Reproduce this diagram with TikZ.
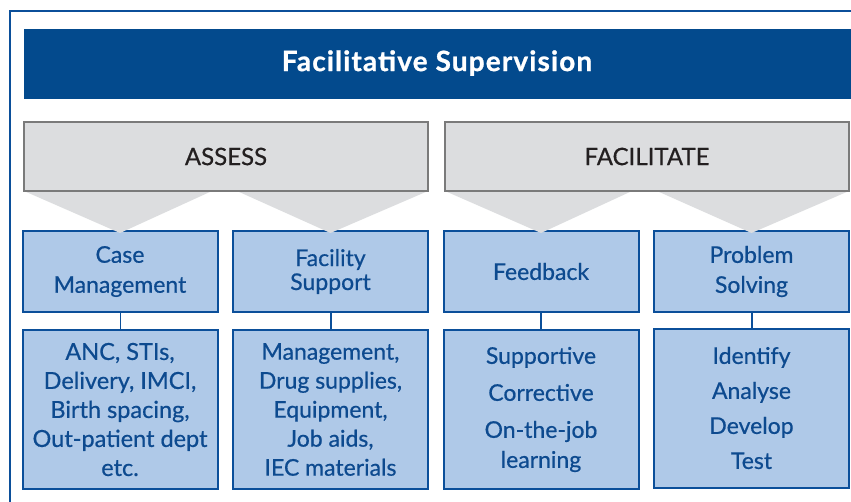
\documentclass[tikz,border=0pt]{standalone}
\usepackage{fontspec}
\setmainfont{Lato}
\newfontfamily\bodyfont{Lato}[FakeBold=0.6]
\newfontfamily\titlefont{Lato Bold}[FakeBold=0.8, LetterSpace=4]
\definecolor{titleblue}{HTML}{034A8D}
\definecolor{frameblue}{HTML}{0B4F9A}
\definecolor{boxblue}{HTML}{AFC9E8}
\definecolor{textblue}{HTML}{0D4A8F}
\definecolor{greyfill}{HTML}{DCDDDF}
\definecolor{greyline}{HTML}{7A7A7A}
\definecolor{darktext}{HTML}{231F20}
\tikzset{
  headbox/.style={draw=greyline, line width=2pt, fill=greyfill, minimum width=404pt, minimum height=69pt, inner sep=0pt,
    text=darktext, font=\bodyfont\fontsize{24}{28}\selectfont},
  bluebox/.style={draw=frameblue, line width=2pt, fill=boxblue, inner sep=0pt, align=center,
    text=textblue, font=\bodyfont\fontsize{23}{30}\selectfont},
  topbox/.style={bluebox, minimum width=195pt, minimum height=81pt},
  lowbox/.style={bluebox, minimum width=195pt, minimum height=159pt},
  chevron/.style={fill=greyfill},
  link/.style={draw=frameblue, line width=2pt},
}
\begin{document}
\begin{tikzpicture}[x=1pt,y=-1pt]
\useasboundingbox (0,0) rectangle (851,501);
\fill[white] (0,0) rectangle (851,501);
% outer frame
\draw[frameblue, line width=1.6pt] (10,520) -- (10,11) -- (870,11);
% title
\node[fill=titleblue, minimum width=828pt, minimum height=70pt, inner sep=0pt, anchor=north west] (title) at (24,29) {};
\node[text=white, font=\titlefont\fontsize{28}{32}\selectfont, inner sep=0pt] (titletext) at (437,63) {Facilitative Supervision};
% row-1 and row-2 boxes
\node[topbox] (cm) at (120,271.5) {Case\\Management};
\node[topbox] (fs) at (330.5,271.5) {Facility\\[-6pt]Support};
\node[topbox] (fb) at (541,271.5) {Feedback};
\node[topbox] (ps) at (751.5,271.5) {Problem\\Solving};
\node[lowbox, font=\bodyfont\fontsize{23.5}{29}\selectfont] (cml) at (120,409.5) {ANC, STIs,\\Delivery, IMCI,\\Birth spacing,\\Out-patient dept\\etc.};
\node[lowbox, font=\bodyfont\fontsize{23}{29}\selectfont] (fsl) at (330.5,409.5) {Management,\\Drug supplies,\\Equipment,\\Job aids,\\IEC materials};
\node[lowbox] (fbl) at (541,409.5) {Supportive\\[7pt]Corrective\\[7pt]On-the-job\\learning};
\node[lowbox] (psl) at (751.5,408) {Identify\\[5pt]Analyse\\[5pt]Develop\\[5pt]Test};
% chevrons
\coordinate (a1) at (212,191); \coordinate (a2) at (237,191);
\coordinate (f1) at (632,191); \coordinate (f2) at (657,191);
\fill[chevron] (24,191) -- ([yshift=-3pt]cm.north) -- (a1) -- cycle;
\fill[chevron] (a2) -- ([yshift=-3pt]fs.north) -- (428,191) -- cycle;
\fill[chevron] (445,191) -- ([yshift=-3pt]fb.north) -- (f1) -- cycle;
\fill[chevron] (f2) -- ([yshift=-3pt]ps.north) -- (849,191) -- cycle;
% header boxes
\node[headbox] (assess) at (226,156.5) {ASSESS};
\node[headbox] (facil) at (647,156.5) {FACILITATE};
% links
\draw[link, line width=1pt] (cm.south) -- (cml.north);
\draw[link] (fs.south) -- (fsl.north);
\draw[link] (fb.south) -- (fbl.north);
\draw[link] (ps.south) -- (psl.north |- ps.south) -- (psl.north);
\end{tikzpicture}
\end{document}
